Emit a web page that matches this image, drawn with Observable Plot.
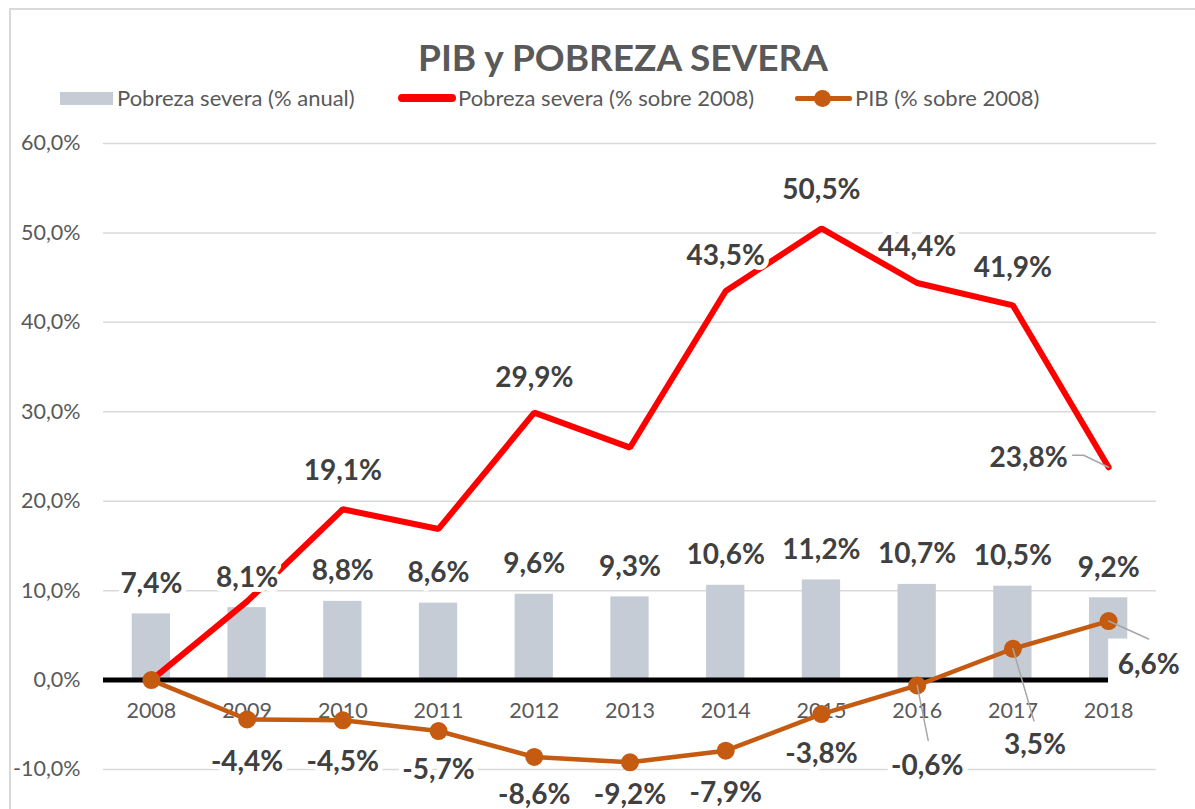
<!DOCTYPE html>
<html>
<head>
<meta charset="utf-8">
<script src="https://cdn.jsdelivr.net/npm/d3@7"></script>
<script src="https://cdn.jsdelivr.net/npm/@observablehq/plot@0.6"></script>
<style>
  html, body { margin: 0; padding: 0; background: #fff; }
  body { width: 1195px; height: 809px; position: relative; overflow: hidden; font-family: Lato, "Open Sans", sans-serif; }
  #frame { position: absolute; left: 9px; top: 8px; width: 1300px; height: 900px; border-left: 2px solid #d9d9d9; border-top: 2px solid #d9d9d9; }
  #title { position: absolute; left: 0; width: 1246px; top: 33px; text-align: center; font-weight: 700; font-size: 37px; color: #595959; line-height: 48px; }
  .lg { position: absolute; top: 86px; height: 24px; line-height: 24px; font-size: 22px; color: #595959; white-space: nowrap; }
  #chart { position: absolute; left: 0; top: 120px; }
</style>
</head>
<body>
<div id="frame"></div>
<div id="title">PIB y POBREZA SEVERA</div>
<div id="legend"></div>
<div id="chart"></div>
<script>
// ---- data ----
const years = [2008, 2009, 2010, 2011, 2012, 2013, 2014, 2015, 2016, 2017, 2018];
const pobrezaAnual = [7.4, 8.1, 8.8, 8.6, 9.6, 9.3, 10.6, 11.2, 10.7, 10.5, 9.2];
const pobrezaSobre2008 = [0, 8.8, 19.1, 16.9, 29.9, 26.0, 43.5, 50.5, 44.4, 41.9, 23.8];
const pib = [0, -4.4, -4.5, -5.7, -8.6, -9.2, -7.9, -3.8, -0.6, 3.5, 6.6];
const yTicks = [-10, 0, 10, 20, 30, 40, 50, 60];
const seriesNames = ["Pobreza severa (% anual)", "Pobreza severa (% sobre 2008)", "PIB (% sobre 2008)"];
const redLabelYears = [2010, 2012, 2014, 2015, 2016, 2017, 2018];
const pibLabelYears = [2009, 2010, 2011, 2012, 2013, 2014, 2015, 2016, 2017, 2018];

// ---- styling / layout ----
const GRAY_BAR = "#c5ccd5", RED = "#ff0000", ORANGE = "#c55a11", LABEL = "#404040", AXIS = "#595959";
const W = 1195, H = 689, mL = 103, mR = 39, mT = 23, mB = 40;
const xDomain = [2007.5, 2018.5], yDomain = [-10, 60];
const pxPerYear = (W - mL - mR) / (xDomain[1] - xDomain[0]);
const pxPerPct = (H - mT - mB) / (yDomain[1] - yDomain[0]);
const fmt = v => v.toFixed(1).replace(".", ",") + "%";

// label pixel offsets
const redOffsets = {2010: [0, -38], 2012: [0, -35], 2014: [0, -35], 2015: [0, -38], 2016: [0, -36], 2017: [0, -37], 2018: [-80, -9]};
const pibOffsets = {2009: [0, 43], 2010: [0, 42], 2011: [0, 39], 2012: [0, 38], 2013: [0, 33], 2014: [0, 42], 2015: [0, 40], 2016: [10, 81], 2017: [22, 96], 2018: [40, 44]};
// leader polylines (pixel offsets from point)
const leaders = [
  {series: "red", year: 2018, pts: [[0, 0], [-25, -12], [-36, -12]]},
  {series: "pib", year: 2018, pts: [[0, 0], [40, 18]]},
  {series: "pib", year: 2017, pts: [[0, 0], [21, 72]]},
  {series: "pib", year: 2016, pts: [[0, 0], [11, 55]]}
];
// white label box (pixel offsets from point) for the PIB 2018 label
const pibBox = {year: 2018, x: [0, 84], y: [18, 80]};

const rows = years.map((y, i) => ({year: y, bar: pobrezaAnual[i], red: pobrezaSobre2008[i], pib: pib[i]}));
const byYear = Object.fromEntries(rows.map(r => [r.year, r]));

const leaderData = [];
leaders.forEach((l, k) => {
  const v = byYear[l.year][l.series];
  l.pts.forEach(([dx, dy]) => leaderData.push({k, x: l.year + dx / pxPerYear, y: v - dy / pxPerPct}));
});
const boxV = byYear[pibBox.year].pib;
const boxData = [{
  x1: pibBox.year + pibBox.x[0] / pxPerYear, x2: pibBox.year + pibBox.x[1] / pxPerYear,
  y1: boxV - pibBox.y[0] / pxPerPct, y2: boxV - pibBox.y[1] / pxPerPct
}];

const labelFont = {fontSize: 28, fontWeight: 700, fill: LABEL, stroke: "white", strokeWidth: 10, paintOrder: "stroke", strokeLinejoin: "round"};

const marks = [
  Plot.gridY(yTicks, {stroke: "#d9d9d9", strokeOpacity: 1, strokeWidth: 1.5}),
  Plot.axisY(yTicks, {tickSize: 0, tickPadding: 23, tickFormat: fmt, fontSize: 21.5, color: AXIS, label: null}),
  Plot.rectY(rows, {x1: d => d.year - 0.2, x2: d => d.year + 0.2, y1: 0, y2: "bar", fill: GRAY_BAR}),
  Plot.ruleY([0], {x1: xDomain[0], x2: years[years.length - 1], stroke: "black", strokeWidth: 5}),
  Plot.text(years, {x: d => d, y: 0, dy: 31, text: d => String(d), fontSize: 21.5, fill: AXIS}),
  Plot.line(rows, {x: "year", y: "red", stroke: RED, strokeWidth: 6, strokeLinejoin: "miter", strokeLinecap: "round"}),
  Plot.line(rows, {x: "year", y: "pib", stroke: ORANGE, strokeWidth: 4.5, strokeLinejoin: "round"}),
  Plot.dot(rows, {x: "year", y: "pib", r: 9, fill: ORANGE, stroke: null}),
  Plot.rect(boxData, {x1: "x1", x2: "x2", y1: "y1", y2: "y2", fill: "white"}),
  Plot.line(leaderData, {x: "x", y: "y", z: "k", stroke: "#a6a6a6", strokeWidth: 1.5}),
  Plot.text(rows, {x: "year", y: "bar", dy: -30, text: d => fmt(d.bar), ...labelFont})
];
redLabelYears.forEach(y => {
  const [dx, dy] = redOffsets[y];
  marks.push(Plot.text([byYear[y]], {x: "year", y: "red", dx, dy, text: d => fmt(d.red), ...labelFont}));
});
pibLabelYears.forEach(y => {
  const [dx, dy] = pibOffsets[y];
  marks.push(Plot.text([byYear[y]], {x: "year", y: "pib", dx, dy, text: d => fmt(d.pib), ...labelFont}));
});

const chart = Plot.plot({
  width: W, height: H,
  marginLeft: mL, marginRight: mR, marginTop: mT, marginBottom: mB,
  x: {type: "linear", domain: xDomain, axis: null},
  y: {domain: yDomain, axis: null},
  style: {fontFamily: "Lato, 'Open Sans', sans-serif", background: "transparent", color: AXIS, overflow: "visible"},
  marks
});
document.getElementById("chart").appendChild(chart);

// ---- legend (HTML) ----
const legend = document.getElementById("legend");
legend.innerHTML = `
  <div style="position:absolute;left:60px;top:92px;width:53px;height:13px;background:${GRAY_BAR}"></div>
  <div class="lg" style="left:117px">${seriesNames[0]}</div>
  <div style="position:absolute;left:398px;top:94px;width:58px;height:8px;border-radius:4px;background:${RED}"></div>
  <div class="lg" style="left:458px">${seriesNames[1]}</div>
  <div style="position:absolute;left:795px;top:96px;width:57px;height:5px;border-radius:2px;background:${ORANGE}"></div>
  <div style="position:absolute;left:814px;top:90px;width:17px;height:17px;border-radius:50%;background:${ORANGE}"></div>
  <div class="lg" style="left:855px">${seriesNames[2]}</div>
`;
</script>
</body>
</html>
